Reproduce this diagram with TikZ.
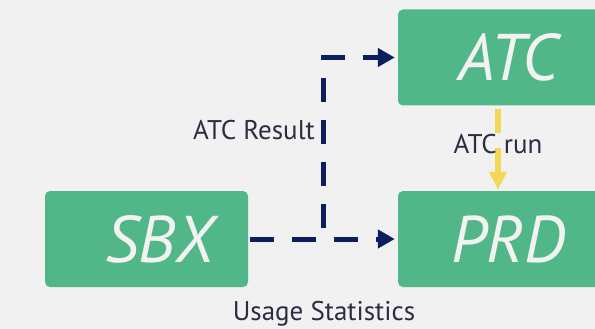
\documentclass[tikz,border=0pt]{standalone}
\usepackage{fontspec}
\setmainfont{PT Sans}
\usetikzlibrary{arrows.meta}
\definecolor{bg}{HTML}{F1F1F1}
\definecolor{boxgreen}{HTML}{52B788}
\definecolor{boxtext}{HTML}{F2F2F2}
\definecolor{navy}{HTML}{0B1F5E}
\definecolor{gold}{HTML}{F2D856}
\definecolor{labeltext}{HTML}{2B2D42}
\tikzset{
  envbox/.style={fill=boxgreen, rounded corners=5pt, minimum width=203pt, minimum height=96pt,
    inner sep=0pt, text=boxtext, font=\fontsize{66}{66}\selectfont\itshape},
  navyflow/.style={draw=navy, line width=5pt, dash pattern=on 24pt off 18pt,
    -{Triangle[length=17pt,width=18pt]}, shorten >=3pt},
  goldflow/.style={draw=gold, line width=6pt, dash pattern=on 24pt off 15pt,
    -{Triangle[length=18pt,width=17pt]}, shorten <=3pt, shorten >=1pt},
  flowlabel/.style={text=labeltext, font=\fontsize{27}{27}\selectfont, inner sep=0pt}
}
\begin{document}
\begin{tikzpicture}[x=1pt,y=-1pt]
\useasboundingbox (0,0) rectangle (595,329);
\clip (0,0) rectangle (595,329);
\fill[bg] (0,0) rectangle (595,329);

\node[envbox] (SBX) at (146.5,239) {\hspace*{26pt}SBX};
\node[envbox] (ATC) at (499.5,57.5) {\hspace*{18pt}ATC};
\node[envbox] (PRD) at (499.5,239) {\hspace*{18pt}PRD};

\coordinate (split) at (323,239);

\draw[navyflow] ([xshift=2pt]SBX.east) -- (PRD.west);
\draw[navyflow, dash phase=31pt] (split) |- (ATC.west);
\draw[goldflow] ([xshift=-1.5pt]ATC.south) -- ([xshift=-1.5pt]PRD.north);

\node[flowlabel, anchor=east] (resultlabel) at (315,130) {ATC Result};
\node[flowlabel] (runlabel) at (498,144) {ATC run};
\node[flowlabel] (usagelabel) at (324,314) {Usage Statistics};
\end{tikzpicture}
\end{document}
